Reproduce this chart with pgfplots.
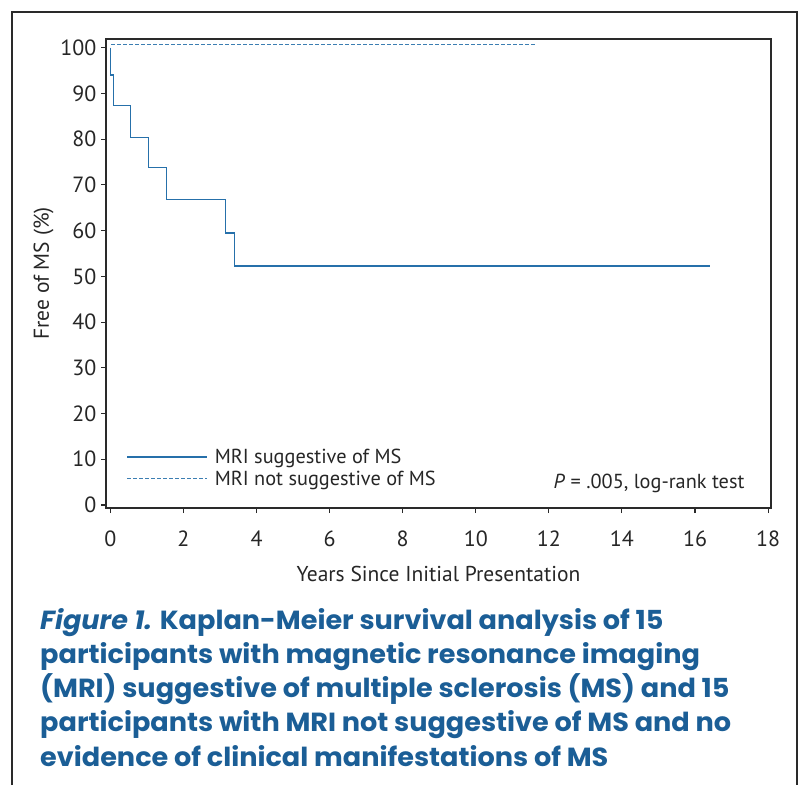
\documentclass[border=0pt]{standalone}
\usepackage{fontspec}
\setmainfont{PT Sans}
\newfontfamily\capfont{Poppins}[FakeStretch=1.035]
\usepackage{pgfplots}
\pgfplotsset{compat=1.18}
\definecolor{kmblue}{HTML}{2670AA}
\definecolor{capblue}{HTML}{1B5E96}
\definecolor{axgray}{HTML}{2A2A2A}
\begin{document}
\begin{tikzpicture}[x=1pt,y=1pt]
\useasboundingbox (0,0) rectangle (800,-785);
\draw[axgray,line width=1.4pt] (12,-785) -- (12,-12) -- (797,-12) -- (797,-785);
\begin{axis}[
  at={(106pt,-508pt)}, anchor=south west,
  scale only axis, width=665pt, height=469pt,
  xmin=-0.12, xmax=18.08, ymin=-0.66, ymax=101.9,
  xtick={0,2,...,18}, ytick={0,10,...,100},
  xtick pos=left, ytick pos=left, tick align=outside,
  major tick length=5pt,
  axis line style={axgray,line width=1.3pt},
  every tick/.style={axgray,line width=1.1pt},
  /pgf/number format/assume math mode=true,
  ticklabel style={font=\fontsize{22}{26}\selectfont, text=black!85},
  xticklabel style={yshift=-14pt},
  yticklabel style={xshift=-1pt},
  xlabel={Years Since Initial Presentation},
  ylabel={Free of MS (\%)},
  label style={font=\fontsize{21.5}{26}\selectfont, text=black!85},
  xlabel style={yshift=-13pt},
  ylabel style={yshift=0pt},
  legend style={at={(axis cs:0.35,13.2)}, anchor=north west, draw=none, fill=none,
    font=\fontsize{20.3}{24}\selectfont, row sep=2pt,
    /tikz/every odd column/.append style={column sep=5pt}},
  legend cell align=left,
  legend image code/.code={\draw[#1] (0pt,0pt) -- (80pt,0pt);},
]
\addplot[kmblue, line width=1.4pt] coordinates {
 (0.01,100) (0.01,94.0) (0.09,94.0) (0.09,87.3) (0.55,87.3) (0.55,80.3)
 (1.05,80.3) (1.05,73.8) (1.53,73.8) (1.53,66.8) (3.15,66.8) (3.15,59.5)
 (3.39,59.5) (3.39,52.3) (16.41,52.3)};
\addlegendentry{\textcolor{black!85}{MRI suggestive of MS}}
\addplot[kmblue!90, line width=0.9pt, dash pattern=on 3.5pt off 2.5pt] coordinates {
 (0.03,100.6) (11.63,100.6)};
\addlegendentry{\textcolor{black!85}{MRI not suggestive of MS}}
\end{axis}
\node[anchor=base east, font=\fontsize{20.3}{24}\selectfont, text=black!85] at (748,-488) {\textit{P} = .005, log-rank test};
\begin{scope}[every node/.style={anchor=base west, inner sep=0pt, text=capblue, font=\capfont\bfseries\fontsize{26.2}{30}\selectfont}]
\node at (40,-629) {\textit{Figure 1.} Kaplan-Meier survival analysis of 15};
\node at (40,-663.25) {participants with magnetic resonance imaging};
\node at (40,-697.5) {(MRI) suggestive of multiple sclerosis (MS) and 15};
\node at (40,-731.75) {participants with MRI not suggestive of MS and no};
\node at (40,-766) {evidence of clinical manifestations of MS};
\end{scope}
\end{tikzpicture}
\end{document}
